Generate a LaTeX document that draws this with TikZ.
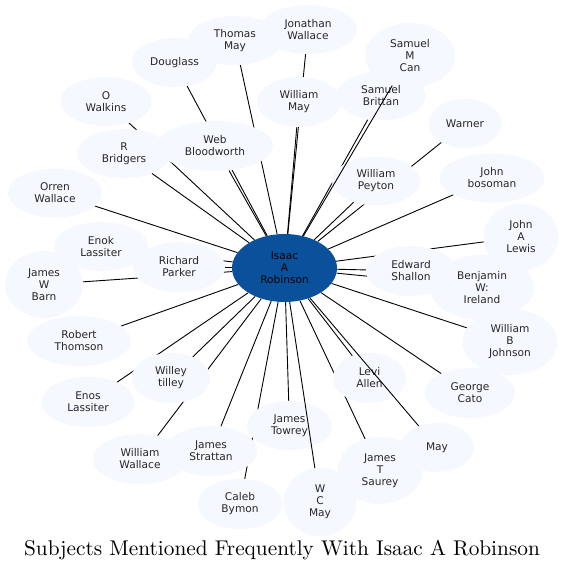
\documentclass[tikz,border=0pt]{standalone}
\usepackage{fontspec}
\newfontfamily\nodefamily{DejaVu Sans}
\newfontfamily\titlefamily{lmroman10-regular.otf}
\usetikzlibrary{shapes.geometric}
\pgfdeclarelayer{background}
\pgfdeclarelayer{foreground}
\pgfsetlayers{background,main,foreground}
\definecolor{nodefill}{RGB}{245,248,254}
\definecolor{hubfill}{RGB}{11,80,155}
\tikzset{
  nd/.style={ellipse, fill=nodefill, inner sep=0pt, align=center,
    font=\nodefamily\fontsize{10.6}{12}\selectfont, text=black!85},
  hub/.style={nd, fill=hubfill, text=black},
  link/.style={draw=black, line width=0.9pt},
  titletext/.style={font=\titlefamily\fontsize{21.3}{25}\selectfont, inner sep=0pt, anchor=base}
}
\newcommand{\nd}[6]{\node[nd, minimum width=#4pt, minimum height=#5pt] (#1) at (#2,#3) {#6};}
\begin{document}
\begin{tikzpicture}[x=1pt,y=-1pt]
\useasboundingbox (0,0) rectangle (565,571);
% hub
\node[hub, minimum width=105pt, minimum height=68pt] (c) at (284.5,268) {Isaac\\A\\Robinson};
% other nodes
\nd{thomas}{235}{40.5}{94}{49}{Thomas\\May}
\nd{jonathan}{308}{29.5}{98}{49}{Jonathan\\Wallace}
\nd{douglass}{174.5}{62.5}{85}{49}{Douglass}
\nd{samcan}{410}{55.5}{90}{65}{Samuel\\M\\Can}
\nd{owalkins}{106}{101.5}{91}{49}{O\\Walkins}
\nd{wmay}{299}{102}{84}{50}{William\\May}
\nd{brittan}{381}{96}{89}{49}{Samuel\\Brittan}
\nd{warner}{465}{123.5}{73}{49}{Warner}
\nd{bridgers}{124}{153.5}{94}{49}{R\\Bridgers}
\nd{web}{215}{146}{116}{50}{Web\\Bloodworth}
\nd{peyton}{376}{181}{88}{49}{William\\Peyton}
\nd{bosoman}{492}{178}{105}{49}{John\\bosoman}
\nd{orren}{55}{193}{94}{49}{Orren\\Wallace}
\nd{lewis}{521}{237}{75}{67}{John\\A\\Lewis}
\nd{enok}{101}{246.5}{94}{49}{Enok\\Lassiter}
\nd{parker}{179}{267}{92}{50}{Richard\\Parker}
\nd{shallon}{411}{271}{90}{50}{Edward\\Shallon}
\nd{barn}{44}{284.5}{78}{67}{James\\W\\Barn}
\nd{ireland}{482}{287.5}{104}{65}{Benjamin\\W:\\Ireland}
\nd{thomson}{79}{341}{104}{50}{Robert\\Thomson}
\nd{johnson}{510}{342}{95}{66}{William\\B\\Johnson}
\nd{willey}{171}{378}{79}{50}{Willey\\tilley}
\nd{levi}{369.5}{378}{73}{50}{Levi\\Allen}
\nd{cato}{470}{393}{90}{50}{George\\Cato}
\nd{enos}{88}{402}{93}{50}{Enos\\Lassiter}
\nd{towrey}{289.5}{425.5}{85}{49}{James\\Towrey}
\nd{may}{437}{447.5}{74}{49}{May}
\nd{wwallace}{140}{459}{94}{50}{William\\Wallace}
\nd{strattan}{211}{451}{92}{50}{James\\Strattan}
\nd{saurey}{380}{470.5}{85}{67}{James\\T\\Saurey}
\nd{wcmay}{320}{502}{73}{68}{W\\C\\May}
\nd{caleb}{240}{504}{85}{50}{Caleb\\Bymon}
% edges beneath nodes
\begin{pgfonlayer}{background}
\foreach \n in {thomas,jonathan,douglass,owalkins,wmay,brittan,warner,bridgers,web,peyton,bosoman,orren,lewis,enok,parker,shallon,barn,ireland,thomson,johnson,willey,levi,cato,enos,towrey,wwallace,strattan,saurey,caleb}
  \draw[link] (c) -- (\n);
\end{pgfonlayer}
% edges drawn over other nodes
\begin{pgfonlayer}{foreground}
\foreach \n in {samcan,may,wcmay}
  \draw[link] (c) -- (\n);
\end{pgfonlayer}
% title
\node[titletext] (title) at (282,555) {Subjects Mentioned Frequently With Isaac A Robinson};
\end{tikzpicture}
\end{document}
